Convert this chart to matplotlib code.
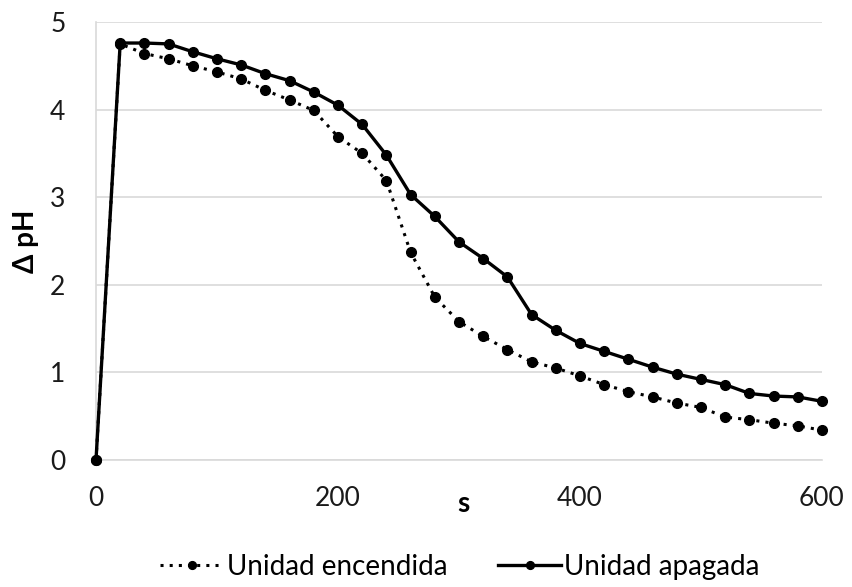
import matplotlib
matplotlib.use("Agg")
import matplotlib.pyplot as plt

plt.rcParams['font.family'] = ['Lato', 'DejaVu Sans']

t = [0, 20, 40, 60, 80, 100, 120, 140, 160, 180, 200, 220, 240, 260, 280, 300,
     320, 340, 360, 380, 400, 420, 440, 460, 480, 500, 520, 540, 560, 580, 600]
encendida = [0, 4.75, 4.64, 4.58, 4.50, 4.43, 4.35, 4.22, 4.11, 3.99, 3.69, 3.50,
             3.19, 2.37, 1.86, 1.58, 1.41, 1.26, 1.12, 1.05, 0.96, 0.86, 0.78,
             0.72, 0.65, 0.60, 0.49, 0.46, 0.42, 0.39, 0.34]
apagada = [0, 4.76, 4.76, 4.75, 4.66, 4.58, 4.51, 4.41, 4.33, 4.20, 4.05, 3.83,
           3.48, 3.03, 2.78, 2.49, 2.30, 2.09, 1.66, 1.48, 1.33, 1.24, 1.15,
           1.06, 0.98, 0.92, 0.86, 0.76, 0.73, 0.72, 0.67]
xticks = [0, 200, 400, 600]
yticks = [0, 1, 2, 3, 4, 5]

W, H = 853, 587
fig = plt.figure(figsize=(W/100, H/100), dpi=100)
ax = fig.add_axes([96/W, 1-460/H, (822-96)/W, (460-22)/H])

ax.plot(t, encendida, color='black', linestyle=(0, (1, 2)), linewidth=2.2,
        marker='o', markersize=7, label='Unidad encendida', zorder=3, clip_on=False)
ax.plot(t, apagada, color='black', linestyle='-', linewidth=2.4,
        marker='o', markersize=7, label='Unidad apagada', zorder=4, clip_on=False)

ax.set_xlim(0, 600)
ax.set_ylim(0, 5)
ax.set_xticks(xticks)
ax.set_yticks(yticks)
ax.grid(axis='y', color='#d9d9d9', linewidth=1.2)
ax.set_axisbelow(True)
for s in ['top', 'right']:
    ax.spines[s].set_visible(False)
for s in ['left', 'bottom']:
    ax.spines[s].set_color('#d9d9d9')
    ax.spines[s].set_linewidth(1.2)
ax.tick_params(axis='x', length=0, labelsize=19, pad=19, labelcolor='#1a1a1a')
ax.tick_params(axis='y', length=0, labelsize=19, pad=22, labelcolor='#1a1a1a')

fig.text(463/W, 1-512/H, 's', fontsize=20, fontweight='bold',
         ha='center', va='baseline')
fig.text(26/W, 1-241/H, 'Δ pH', fontsize=20, fontweight='bold',
         rotation=90, ha='center', va='center')

leg = fig.legend(loc='center', bbox_to_anchor=(460/W, 1-567/H), ncol=2,
                 frameon=False, fontsize=20, handlelength=2.3,
                 columnspacing=1.8, handletextpad=0.1, markerscale=0.8)

fig.savefig('out.png', dpi=100)
